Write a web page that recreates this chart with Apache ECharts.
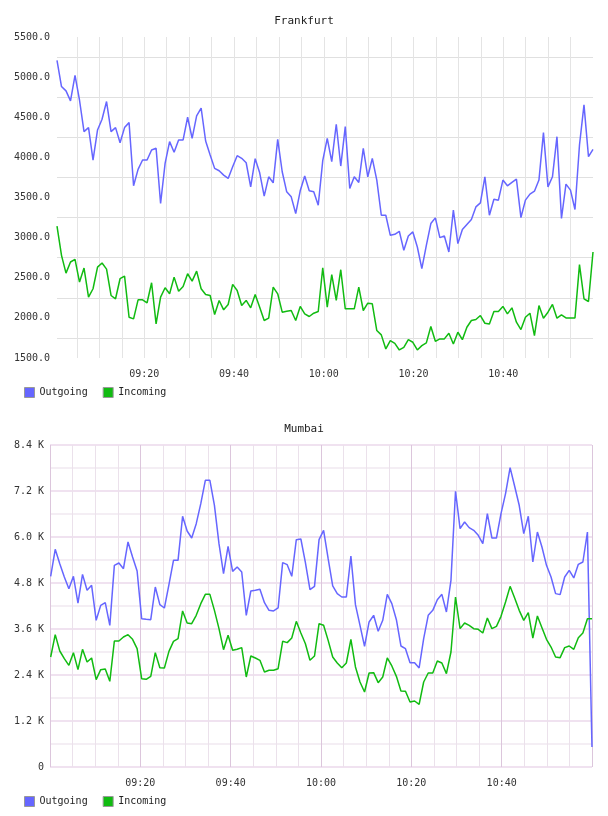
<!DOCTYPE html>
<html>
<head>
<meta charset="utf-8">
<script src="https://cdn.jsdelivr.net/npm/echarts@6/dist/echarts.min.js"></script>
<style>
html,body{margin:0;padding:0;background:#fff;}
#chart{width:608px;height:816px;}
</style>
</head>
<body>
<div id="chart"></div>
<script>
// ---------- DATA ----------
// Frankfurt: 120 samples, ~1 min apart, starting at ~09:00:33
const frankfurtStartMin = 0.55;
const frankfurtStepMin = 1.0037;
const frankfurtOutgoing = [
  5208, 4883, 4829, 4704, 5021, 4712, 4321, 4371, 3967, 4342,
  4475, 4696, 4321, 4371, 4183, 4371, 4433, 3646, 3850, 3967,
  3967, 4092, 4113, 3425, 3925, 4196, 4063, 4217, 4217, 4500,
  4238, 4517, 4613, 4204, 4029, 3863, 3833, 3779, 3738, 3883,
  4021, 3988, 3933, 3633, 3983, 3808, 3517, 3758, 3683, 4225,
  3821, 3571, 3508, 3300, 3583, 3767, 3583, 3571, 3404, 3960,
  4238, 3946, 4413, 3892, 4383, 3613, 3758, 3688, 4113, 3758,
  3988, 3717, 3279, 3279, 3029, 3042, 3079, 2842, 3021, 3071,
  2883, 2613, 2904, 3175, 3246, 3000, 3021, 2821, 3342, 2925,
  3100, 3163, 3225, 3383, 3433, 3758, 3279, 3479, 3467, 3717,
  3646, 3688, 3729, 3250, 3467, 3542, 3579, 3717, 4308, 3633,
  3758, 4258, 3238, 3667, 3592, 3350, 4154, 4654, 4008, 4100
];
const frankfurtIncoming = [
  3142, 2779, 2558, 2696, 2729, 2446, 2621, 2258, 2363, 2633,
  2683, 2608, 2279, 2238, 2488, 2521, 2008, 1988, 2225, 2225,
  2188, 2438, 1925, 2258, 2375, 2300, 2508, 2333, 2392, 2550,
  2458, 2583, 2363, 2292, 2279, 2042, 2217, 2100, 2167, 2417,
  2342, 2154, 2217, 2125, 2292, 2133, 1967, 1996, 2383, 2300,
  2071, 2083, 2092, 1967, 2142, 2050, 2017, 2058, 2079, 2625,
  2133, 2538, 2217, 2600, 2113, 2113, 2113, 2383, 2092, 2183,
  2175, 1842, 1788, 1613, 1717, 1683, 1600, 1633, 1729, 1696,
  1600, 1654, 1688, 1892, 1708, 1738, 1738, 1808, 1675, 1821,
  1729, 1883, 1967, 1979, 2029, 1933, 1925, 2079, 2079, 2142,
  2050, 2125, 1946, 1854, 2008, 2058, 1779, 2154, 1996, 2071,
  2167, 1996, 2038, 2000, 2000, 2000, 2663, 2238, 2204, 2821
];
// Mumbai: 120 samples, ~1 min apart, starting at ~09:00:09
const mumbaiStartMin = 0.15;
const mumbaiStepMin = 1.0071;
const mumbaiOutgoing = [
  4974, 5678, 5304, 4957, 4652, 4974, 4278, 5026, 4609, 4739,
  3826, 4217, 4287, 3696, 5261, 5322, 5174, 5870, 5478, 5113,
  3870, 3852, 3843, 4696, 4235, 4148, 4757, 5391, 5391, 6539,
  6157, 5974, 6348, 6870, 7478, 7478, 6826, 5826, 5043, 5757,
  5104, 5217, 5087, 3957, 4591, 4609, 4635, 4287, 4087, 4070,
  4148, 5330, 5278, 4974, 5930, 5948, 5330, 4626, 4713, 5930,
  6174, 5435, 4722, 4522, 4435, 4435, 5504, 4235, 3696, 3148,
  3783, 3957, 3539, 3826, 4504, 4261, 3843, 3157, 3087, 2722,
  2722, 2583, 3348, 3957, 4087, 4365, 4504, 4043, 4870, 7192,
  6219, 6391, 6245, 6174, 6044, 5827, 6610, 5974, 5974, 6610,
  7132, 7810, 7323, 6827, 6088, 6540, 5348, 6130, 5739, 5261,
  4957, 4523, 4497, 4957, 5131, 4931, 5287, 5348, 6130, 522
];
const mumbaiIncoming = [
  2870, 3452, 3026, 2826, 2652, 2983, 2539, 3070, 2739, 2844,
  2278, 2539, 2557, 2235, 3287, 3287, 3391, 3452, 3330, 3087,
  2304, 2287, 2365, 2983, 2591, 2583, 3017, 3278, 3348, 4070,
  3757, 3739, 3957, 4261, 4504, 4504, 4087, 3609, 3061, 3435,
  3044, 3070, 3113, 2348, 2896, 2844, 2783, 2478, 2522, 2522,
  2565, 3278, 3244, 3365, 3800, 3496, 3217, 2783, 2896, 3739,
  3696, 3304, 2870, 2713, 2591, 2713, 3330, 2609, 2217, 1957,
  2452, 2461, 2200, 2348, 2844, 2635, 2365, 1983, 1974, 1696,
  1722, 1635, 2217, 2452, 2452, 2765, 2713, 2435, 3000, 4435,
  3609, 3757, 3696, 3609, 3591, 3496, 3887, 3609, 3670, 3930,
  4304, 4713, 4409, 4087, 3826, 4026, 3365, 3939, 3635, 3330,
  3130, 2870, 2852, 3113, 3157, 3070, 3374, 3496, 3870, 3870
];
const seriesNames = ['Outgoing', 'Incoming'];
const chartTitles = ['Frankfurt', 'Mumbai'];
const frankfurtYTicks = {min: 1500, max: 5500, step: 500};
const mumbaiYTicks = {min: 0, max: 8400, step: 1200};

// ---------- BUILD ----------
const mono = 'DejaVu Sans Mono';
const blue = '#6666ff', green = '#11bb11';
const frankfurtTimes = frankfurtOutgoing.map((_, i) => frankfurtStartMin + i * frankfurtStepMin);
const mumbaiTimes = mumbaiOutgoing.map((_, i) => mumbaiStartMin + i * mumbaiStepMin);
const pair = (times, vals) => vals.map((v, i) => [times[i], v]);
const hhmm = v => {
  const t = Math.round(v);
  const h = 9 + Math.floor(t / 60), m = t % 60;
  return String(h).padStart(2, '0') + ':' + String(m).padStart(2, '0');
};
const isLabelTime = v => Math.abs(v - Math.round(v)) < 1e-6 && Math.round(v) % 20 === 0 && v > 0.5 && v < 119.5;
const labelStyle = {fontFamily: mono, fontSize: 10, color: '#333'};

const chart = echarts.init(document.getElementById('chart'), null, {renderer: 'canvas'});
const lineSeries = (name, color, data, idx) => ({
  name, type: 'line', xAxisIndex: idx, yAxisIndex: idx, data,
  showSymbol: false, symbol: 'none', color,
  lineStyle: {color, width: 1.5}, animation: false
});
const legendFor = top => ({
  data: seriesNames, left: 24, top, padding: 0, icon: 'rect', itemWidth: 10, itemHeight: 10, itemGap: 15,
  itemStyle: {borderColor: '#999', borderWidth: 1},
  textStyle: {fontFamily: mono, fontSize: 10, color: '#222'}
});
const titleFor = (text, top) => ({
  text, left: 'center', top, padding: 0,
  textStyle: {fontFamily: mono, fontSize: 11, fontWeight: 'normal', color: '#222'}
});

chart.setOption({
  animation: false,
  backgroundColor: '#fff',
  title: [titleFor(chartTitles[0], 16), titleFor(chartTitles[1], 424)],
  legend: [legendFor(387), legendFor(796)],
  grid: [
    {left: 57, top: 37, width: 536, height: 321, containLabel: false},
    {left: 50, top: 445, width: 542, height: 322, containLabel: false}
  ],
  xAxis: [
    {gridIndex: 0, type: 'value', min: frankfurtTimes[0], max: frankfurtTimes[frankfurtTimes.length - 1],
     splitNumber: 24, minInterval: 5, maxInterval: 5,
     axisLine: {show: false}, axisTick: {show: false},
     axisLabel: Object.assign({margin: 11, showMinLabel: false, showMaxLabel: false,
       formatter: v => isLabelTime(v) ? hhmm(v) : ''}, labelStyle),
     splitLine: {show: true, showMinLine: false, showMaxLine: false, lineStyle: {color: '#e4e4e4', width: 1}}},
    {gridIndex: 1, type: 'value', min: 0, max: 120, interval: 20,
     axisLine: {show: false}, axisTick: {show: false},
     axisLabel: Object.assign({margin: 11, formatter: v => isLabelTime(v) ? hhmm(v) : ''}, labelStyle),
     splitLine: {show: true, lineStyle: {color: '#dcc6dc', width: 1}},
     minorTick: {show: false, splitNumber: 4},
     minorSplitLine: {show: true, lineStyle: {color: '#ebe1eb', width: 1}}}
  ],
  yAxis: [
    {gridIndex: 0, type: 'value', min: frankfurtYTicks.min, max: frankfurtYTicks.max, interval: frankfurtYTicks.step,
     axisLine: {show: false}, axisTick: {show: false},
     axisLabel: Object.assign({margin: 7, formatter: v => v.toFixed(1)}, labelStyle),
     splitLine: {show: false},
     minorTick: {show: false, splitNumber: 2},
     minorSplitLine: {show: true, lineStyle: {color: '#e0e0e0', width: 1}}},
    {gridIndex: 1, type: 'value', min: mumbaiYTicks.min, max: mumbaiYTicks.max, interval: mumbaiYTicks.step,
     axisLine: {show: false}, axisTick: {show: false},
     axisLabel: Object.assign({margin: 6, formatter: v => v === 0 ? '0' : (v / 1000).toFixed(1) + ' K'}, labelStyle),
     splitLine: {show: true, lineStyle: {color: '#f0e2f0', width: 2}},
     minorTick: {show: false, splitNumber: 2},
     minorSplitLine: {show: true, lineStyle: {color: '#f4eef4', width: 2}}}
  ],
  series: [
    lineSeries(seriesNames[0], blue, pair(frankfurtTimes, frankfurtOutgoing), 0),
    lineSeries(seriesNames[1], green, pair(frankfurtTimes, frankfurtIncoming), 0),
    lineSeries(seriesNames[0], blue, pair(mumbaiTimes, mumbaiOutgoing), 1),
    lineSeries(seriesNames[1], green, pair(mumbaiTimes, mumbaiIncoming), 1)
  ]
});
</script>
</body>
</html>
